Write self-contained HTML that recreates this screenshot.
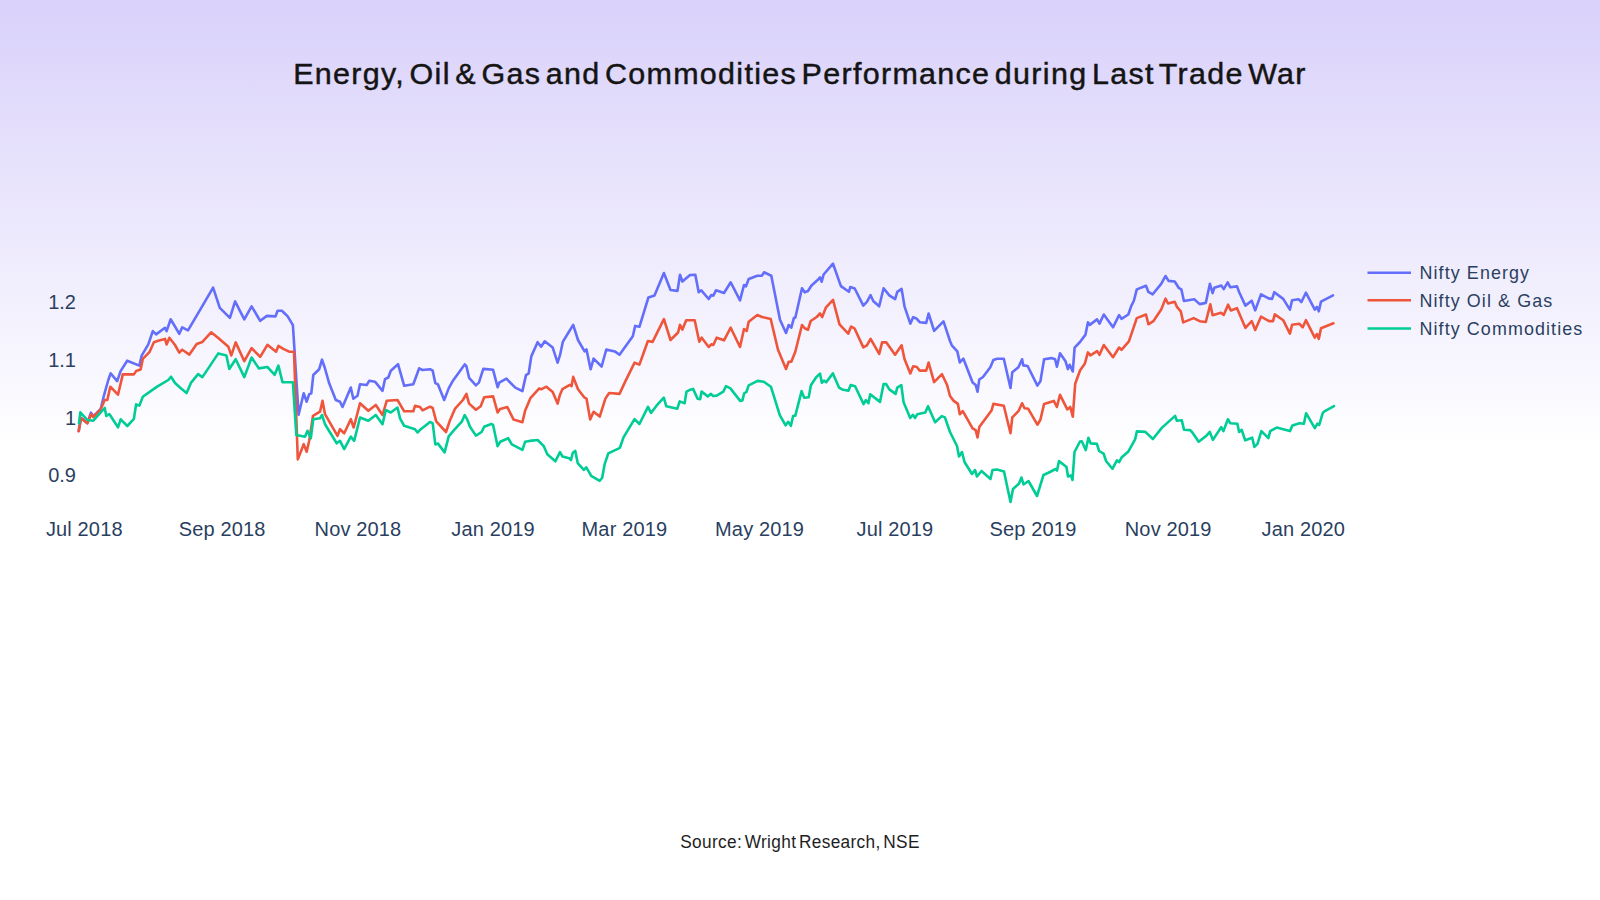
<!DOCTYPE html>
<html><head><meta charset="utf-8">
<style>
html,body{margin:0;padding:0;}
body{width:1600px;height:900px;overflow:hidden;position:relative;
background:linear-gradient(to bottom,#d9d1fa 0%,#ffffff 50%,#ffffff 100%);
font-family:"Liberation Sans",sans-serif;}
.t{position:absolute;white-space:nowrap;}
#title{left:0;width:1600px;text-align:center;top:58px;font-size:29px;color:#141414;letter-spacing:1.25px;word-spacing:-5px;-webkit-text-stroke:0.45px #141414;transform:scaleX(1.05);transform-origin:800px 0;}
#src{left:0;width:1600px;text-align:center;top:832px;font-size:17.5px;color:#1e1e1e;letter-spacing:0.35px;word-spacing:-2.5px;transform:scaleX(0.985);transform-origin:800px 0;}
svg{position:absolute;left:0;top:0;}
.ax{font-family:"Liberation Sans",sans-serif;fill:#2a3f5f;}
</style></head><body>
<div id="title" class="t">Energy, Oil &amp; Gas and Commodities Performance during Last Trade War</div>
<svg width="1600" height="900" viewBox="0 0 1600 900">
<g class="ax" font-size="20" text-anchor="end">
<text x="76" y="309">1.2</text>
<text x="76" y="366.5">1.1</text>
<text x="76" y="424.5">1</text>
<text x="76" y="481.5">0.9</text>
</g>
<g class="ax" font-size="20" text-anchor="middle" letter-spacing="0.15">
<text x="84.3" y="535.5">Jul 2018</text>
<text x="222.2" y="535.5">Sep 2018</text>
<text x="358.0" y="535.5">Nov 2018</text>
<text x="493.1" y="535.5">Jan 2019</text>
<text x="624.4" y="535.5">Mar 2019</text>
<text x="759.6" y="535.5">May 2019</text>
<text x="894.9" y="535.5">Jul 2019</text>
<text x="1033.0" y="535.5">Sep 2019</text>
<text x="1168.2" y="535.5">Nov 2019</text>
<text x="1303.3" y="535.5">Jan 2020</text>
</g>
<g fill="none" stroke-width="2.6" stroke-linejoin="round" stroke-linecap="round">
<polyline stroke="#636efa" points="78.7,431 81,418 87.3,423 91,412.7 93.3,416.5 100.7,409 104,395.3 108.3,380 110.6,373.3 117.2,381.1 120.6,371.1 127.2,360.7 139.4,365.6 141.7,355.6 148.3,344.4 152.8,331.1 156.1,334.4 165,327.8 166.6,331.1 170.6,319.3 175,326.5 179.3,333.8 182.2,327.4 188,330.3 203.9,303.4 213.1,287.6 219.8,307.8 229.9,317.9 235.1,301.4 244.3,319.3 251.6,306.3 260.2,320.8 266.9,315.9 275.5,316.4 277.6,310.7 281.9,310.7 287.7,316.4 292.9,325.1 298.6,414.7 303.7,393.3 306.7,401.7 309.2,394.2 311.3,393.3 313.3,375 319.2,369.2 322,359.7 324.7,367.5 329.2,383.3 335.8,400 340,401.7 342.5,407 350.8,387.5 353.3,398.7 357.5,395.8 360,384.2 366.7,385 369.2,380.8 375,381.7 382.5,390.8 385,379.2 388.3,377.5 390.8,370.8 398,364.2 404.2,385.8 413.3,384.2 419.2,368.3 422.5,370 430,369.2 432.7,370.7 435.3,383.1 438,384.4 444.2,400 448.7,388.4 453.1,380.4 464.7,364.4 466.4,366.2 469.1,377.8 475.9,385.4 478.9,382.6 483.3,368.9 493.1,369.8 497.6,387.2 499.3,382.6 506.4,378.7 515.3,387.6 522.4,391.1 526,375.1 528.7,373.3 531.3,356.4 537.6,342.2 541.1,346.7 544.7,341.3 552.7,347.6 557.6,362.7 560,355.2 562.8,341.9 568.5,332.5 573.2,324.9 578,340 584.6,351.4 586.5,349.5 590.6,369.3 593.6,358.6 601.6,366.5 606.3,349.5 614.8,351.4 619.5,354.8 632.8,336.3 635.2,325.9 639.4,326.8 648.4,297.5 654.5,295.6 663.9,273 670.5,290 677.5,290.9 680,274.8 682.4,281.5 690,275 695.3,274.7 698.7,292.3 701.3,290.3 708.7,299 711.3,295 713.3,295.7 716,290.3 724,293 730.7,282.3 740,300.3 744,285 746,286.3 748.7,279 757.3,275.7 762,275.7 764,272.3 771.3,275.7 780,319.7 786,333 788.7,325 791.3,327.7 794,317.7 795.3,317.7 802,288.3 804.7,292.3 808,291 811.3,285.7 817.3,280.3 820,277.4 821.7,281.7 823.6,274.5 833,263.7 840.9,286.1 848.9,291.8 850.3,287.1 854.7,288.5 863.3,305.6 866.9,301.9 870.6,295.2 873.4,301.2 879.2,306.3 883.6,288.2 889.3,295.4 895.1,299.1 897.3,291.8 901.6,288.9 904.5,306.3 910.3,323.6 913.2,317.1 916.8,318.8 919.7,322.2 926.2,322.9 928.6,313.5 934.1,330.8 943.5,321.4 950,341 951.8,345.3 957.3,351.4 959.8,362.4 963.4,358.7 972.6,382.5 975.7,385 977.5,391.7 979.3,379.5 983,377 990.3,367.3 993.4,359.9 997,358.7 1003.8,358.7 1010.5,388 1012.3,372.2 1018.4,367.3 1022.1,359.3 1023.3,365.4 1027.6,366 1037.4,385.6 1040.4,381.3 1044.1,359.3 1051.4,358.1 1055.1,359.3 1056.9,366.7 1060,353.2 1065.5,361.2 1067.9,369.1 1069.7,364.8 1072.8,371.5 1074.6,347.7 1080,342 1085.5,334.6 1087.9,322.4 1089.8,324.9 1097.1,319.4 1099.5,323.6 1103.8,314.5 1113,327.3 1119.1,315.1 1121.5,318.8 1128.3,314.5 1131.3,305.9 1133.8,301 1136.8,289.4 1146,285.8 1148.4,291.9 1152.7,294.3 1161.2,283.9 1165.5,276 1168.6,280.9 1174.7,281.5 1179,288.2 1181.4,289.4 1183.9,301 1194.2,299.2 1199.7,304.1 1205.8,302.9 1209.9,283.8 1212.6,293.1 1214.3,287.8 1221.4,285.6 1223.7,289.1 1227.7,282.4 1230.3,287.3 1237,286.4 1239.2,292.2 1245.4,305.6 1251.7,300.7 1255.2,310.4 1261,294.4 1268.6,298.4 1272.1,298.9 1274.3,292.2 1283.2,298.9 1289.9,309.6 1292.1,300.2 1298.8,299.3 1301.4,302 1305.9,292.7 1314.8,309.6 1317,306.9 1318.8,311.3 1321,301.6 1333,295.3"/>
<polyline stroke="#ef553b" points="78.7,431.3 81,418 87.3,423.3 91.3,414 93.3,417 100.7,409.3 104.7,400 107.3,400 110.3,386.7 118,394.7 122.8,374.4 133.9,374.4 136.1,371.1 140.6,369.6 142.8,358.9 149.4,352.2 153.9,342.2 158.3,340.7 165,338.9 166.6,344.4 169.4,337.8 175,345 179.3,352.6 182.2,349.7 189.4,354.6 196.7,343.9 202.4,341.9 211.1,332.3 218.3,338.1 228.4,346.8 231.3,355.4 235.7,342.4 244.3,361.2 251.6,348.2 260.2,356.9 267.4,344.8 276.1,351.7 278.4,345.9 283.3,348.8 289.1,351.7 294,351.7 297.8,459.4 303.7,444.2 306.7,451.7 309.2,440.8 313,415.8 320,411.7 322.5,400.8 325,414.2 337.5,435.8 340,429.2 344.2,433.3 350.8,419.2 353.7,427.5 360,403.3 368.3,410.8 375.8,405 382.5,415 386.7,400.8 397.5,400 404.2,411.3 413.3,411.3 415,405.8 420,407 422.5,410.3 430,406.7 432.7,408 436.2,421.3 446,432 449.6,421.3 454.9,408.9 462.9,400 466.4,393.8 469.1,403.6 475.9,409.8 480.7,406.2 484.2,397.3 493.1,396.4 497.6,412.4 500.2,408.9 507.3,407.1 513.6,419.6 522.4,422.2 525.1,410.7 530.4,398.2 539.3,388.4 541.1,389.3 546.4,386.7 552.7,392 557.6,403.6 560,394.7 562.4,389.2 569.8,384.9 571.6,386.1 573.2,376.9 578,389.2 584.6,397.7 586.5,398.6 590.2,419.4 593.6,411.8 599.7,416.6 605.4,398.6 609.1,393 619.5,393.9 625.2,381.6 634.6,362.7 639.4,364.6 647.9,341 652.6,341.9 663.9,319.2 670.5,340 678.1,332.5 680,324.9 682.4,329.6 686.2,320.2 690,320.3 694.7,320.3 699.3,341.7 701.7,337.7 708.7,347 711.3,344.3 713.3,345 716.7,337.7 724,340.3 730.7,327.7 740,347 744,329 746.7,331 748.7,321.7 757.3,315 762,317 770.7,319 778,349.7 786,369 788.7,361.7 791.3,361.7 795.3,351.7 802,325 804.7,328.3 808,329.7 810.7,321 816.7,317 820,313.5 822.2,317.1 825.8,307.7 833,299.8 839.5,324.3 848.2,333.7 851.1,326.5 854.7,328.7 863.3,347.4 866.9,345.3 870.6,338.8 879.2,353.9 882.1,342.4 886.4,342.4 895.1,354.7 901.6,345.3 904.5,359 910.3,373.4 913.2,366.2 916.8,367 919.7,370.6 926.2,370.6 928.6,362.6 934.1,382.1 942,374.2 947.1,385 950,396 953.7,400.9 957.9,403.9 959.8,414.3 962.8,411.2 972.6,428.4 975.7,430.2 977.5,437.5 979.3,427.1 991.5,410.6 993.4,403.9 1003.8,405.7 1010.5,433.2 1012.3,417.4 1018.4,411.2 1022.1,403.3 1024.5,408.2 1028.2,408.8 1037.4,424.7 1040.4,419.8 1044.1,403.9 1053.8,400.9 1056.9,407 1060,394.8 1067.3,409.4 1070.3,407 1072.8,416.7 1075.2,383.8 1080,370.5 1084.9,363.4 1087.9,352.4 1090.4,355.4 1097.1,351.1 1099.5,354.8 1103.8,345 1113,357.2 1119.1,347.5 1121.5,349.9 1128.9,341.4 1136.8,318.1 1146,314.5 1148.4,324.3 1153.3,321.2 1161.2,309.6 1165.5,298.6 1168,303.5 1174.7,301.7 1177.1,307.2 1180.8,311.4 1183.2,322.4 1193.6,318.1 1199.7,321.2 1205.8,322 1210.3,304.2 1212.6,315.3 1221,312.7 1223.7,314.9 1228.1,304.7 1230.8,310.4 1237,308.2 1245.4,327.8 1251.7,321.1 1255.2,330 1261,316.7 1269,321.1 1273,321.1 1274.8,314.4 1283.2,320.2 1289.9,333.6 1292.1,324.7 1299.2,323.8 1302.8,327.3 1305.9,320.2 1314.8,337.6 1317,334 1318.8,338.9 1321,328.2 1333.4,323.3"/>
<polyline stroke="#00cc96" points="79,423.3 80.3,412.3 87.3,420 93.3,420.7 104.7,408 106.3,416 109.3,414 118,427.3 120.7,419.3 127.3,426 133.9,418.9 136.1,404.4 139.4,405.6 142.8,396.7 153.9,388.9 157.2,386.7 168.3,380 171,376.7 175,383 181.4,388.7 186.6,393 190.9,382.9 198.1,374.2 202.4,377.1 218.3,353.4 226.4,355.4 229.3,369 235.7,359.2 244.3,377.1 251.6,357.5 258.8,368.4 267.4,367 274.7,374.8 278.4,365.6 282.5,382.3 292.9,382.3 296.3,434.9 305,436.7 307.5,430.8 310.8,438.3 313.3,419.2 320,418.3 322,415 325,424.2 336.7,443.3 340,440.8 344.2,449.2 350.8,436.7 354.2,440.8 360,417.5 368.3,420.8 375.8,415 382.5,424.2 385.8,410 390.8,412.5 397.5,407.5 400,418.3 404.2,425.8 415,429.2 417.5,432.5 420.8,429.2 430,422 432.7,423.1 435.3,444.4 438,443.6 444.6,452.4 448.7,436.4 454,430.2 462,421.3 464.7,415.1 467.3,419.6 470,426.7 475.9,435.6 481.6,432 484.2,426.7 491.3,424 493.1,424.9 497.6,446.2 500.2,441.8 508.2,438.2 511.8,444.4 522.4,449.8 525.1,441.8 529.6,440.9 537.6,440 543.8,446.2 547.3,454.2 555.3,461.3 560,452.1 562.4,456.4 569.2,458.2 571,460 572.8,452.7 575.3,450.9 577.7,463.1 583.8,469.8 586.3,467.4 591.2,475.9 599.7,480.8 602.2,477.7 604.6,464.3 608.3,453.3 619.9,447.8 623.5,437.4 634.5,419.1 639.4,424 648,406.9 651,413 656.5,405.7 663.8,397.7 666.3,406.3 677.3,408.7 679.7,401.4 684.6,403.2 686.5,391.6 690,389.8 693.1,388.9 697.6,398.7 700.2,399.1 701.6,391.6 707.8,396.4 710.9,393.8 713.1,396 716.7,395.6 723.3,391.6 726,386.2 730.4,388.4 740.2,400.9 742.4,400.4 744.2,393.3 746.4,392 748.7,385.3 757.6,380.9 763.8,381.8 770.9,386.7 779.8,415.1 785.6,425.3 788.2,421.8 790.9,425.8 793.1,416 795.3,415.6 801.6,391.1 804.2,397.8 808.7,397.3 810.9,385.3 816.2,377.3 820,373.6 821.8,382.8 824,380.6 826.2,382.3 832.9,373.4 839.1,387.7 842.2,389.4 848.4,390.8 850.7,385 855.1,386.3 863.6,404.1 865.8,400.1 868.4,403.2 870.2,394.3 880,401.9 883.6,384.1 886.2,384.1 889.3,389.4 895.6,393.9 897.3,387.7 901.3,385 903.6,402.3 910.2,417.9 912.9,414.8 915.1,417.9 917.3,414.3 925.3,412.6 928,406.3 935.1,422.3 941.8,416.1 944.9,417.4 950,432 957,446 959,456.5 962,452 964.5,462 972,474 975,470 977,476.5 981.5,471 990.5,479 992.5,470 997,469.5 1004,471.5 1010.5,502 1013,489 1019,483.5 1021.5,477.5 1023.5,484.5 1028.5,481 1037,496 1043.5,475 1050,472 1055.5,469 1057,470.5 1059,461 1066.5,467 1068,476.5 1071,475.5 1072.5,480 1074.5,452 1080,441.5 1081.8,441.2 1085.8,450.1 1088.4,437.7 1090.7,443.4 1096.9,443.9 1099.1,451 1103.6,453.7 1106.2,461.2 1112.4,468.8 1116.9,460.3 1119.1,462.1 1121.8,457.2 1128.4,451.4 1135.1,439.4 1136.9,431.4 1145.3,431.9 1152.9,439 1161.8,427.9 1175.1,415.9 1176.9,420.8 1181.8,420.3 1184,429.7 1190.2,430.1 1192.9,433.2 1198.7,441.7 1206.7,435.4 1209.8,432 1212.9,439.9 1221.2,427.2 1223.4,431.1 1227.9,419.3 1230.4,423.2 1237.4,423.7 1239.1,432 1241.7,429.8 1245.2,440.3 1252.2,437.7 1254.4,446.9 1257.5,443.8 1261.4,431.1 1268.4,438.1 1270.2,431.1 1276.7,427.6 1289.9,431.1 1292.5,425.4 1299.5,423.2 1303.9,423.7 1306.1,413.2 1314.8,428.1 1317.4,423.7 1319.2,425 1322.7,413.2 1324.4,411.4 1334,406.2"/>
</g>
<g stroke-width="2.6">
<line x1="1367.5" y1="272.7" x2="1411" y2="272.7" stroke="#636efa"/>
<line x1="1367.5" y1="300.3" x2="1411" y2="300.3" stroke="#ef553b"/>
<line x1="1367.5" y1="328.5" x2="1411" y2="328.5" stroke="#00cc96"/>
</g>
<g class="ax" font-size="17.9" letter-spacing="1.1">
<text x="1419.5" y="279">Nifty Energy</text>
<text x="1419.5" y="307">Nifty Oil &amp; Gas</text>
<text x="1419.5" y="335">Nifty Commodities</text>
</g>
</svg>
<div id="src" class="t">Source: Wright Research, NSE</div>
</body></html>
